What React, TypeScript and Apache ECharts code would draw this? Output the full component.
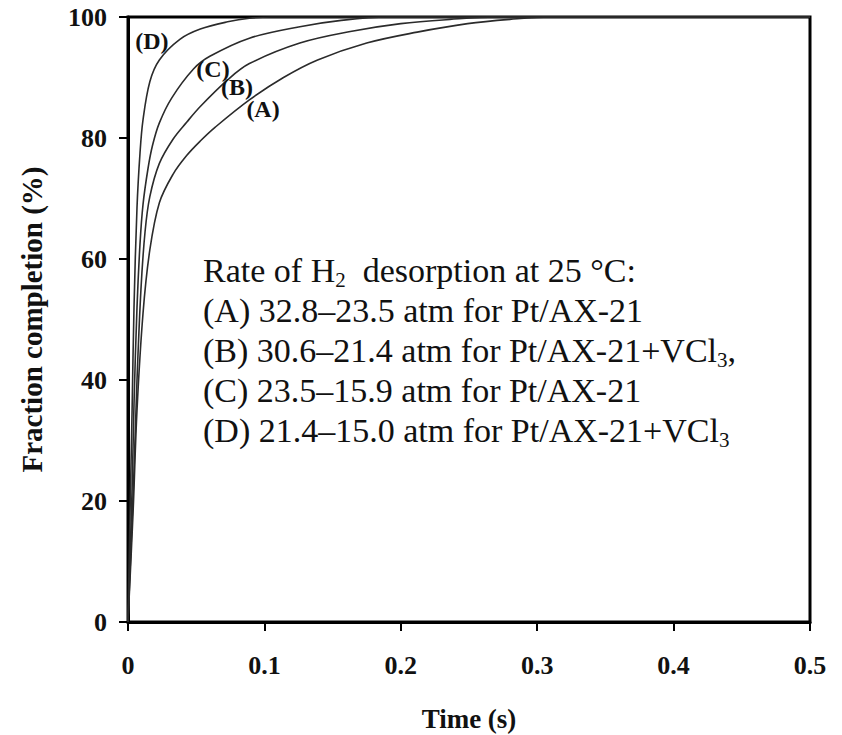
import React, { useEffect, useRef } from "react";
import * as echarts from "echarts";

const xTicks = [0, 0.1, 0.2, 0.3, 0.4, 0.5];
const yTicks = [0, 20, 40, 60, 80, 100];

const timeA = [0, 0.0037, 0.0066, 0.011, 0.016, 0.023, 0.033, 0.043, 0.053, 0.064, 0.089, 0.114, 0.139, 0.175, 0.212, 0.249, 0.28, 0.31, 0.5];
const fracA = [0, 18, 35, 51, 61.5, 69.3, 74, 77.1, 79.5, 81.8, 86.3, 90, 92.9, 95.7, 97.5, 98.9, 99.6, 100, 100];

const timeB = [0, 0.0044, 0.0066, 0.0095, 0.0125, 0.016, 0.023, 0.033, 0.043, 0.053, 0.073, 0.089, 0.126, 0.163, 0.2, 0.236, 0.27, 0.5];
const fracB = [0, 25, 40, 55, 64.5, 70.3, 75.8, 79.8, 82.6, 85.2, 89.6, 92.3, 95.7, 97.6, 98.9, 99.6, 100, 100];

const timeC = [0, 0.003, 0.0044, 0.0066, 0.0088, 0.011, 0.0147, 0.018, 0.023, 0.032, 0.048, 0.06, 0.089, 0.126, 0.155, 0.19, 0.5];
const fracC = [0, 22, 36, 52, 62.5, 69, 75, 78.8, 82.5, 86.6, 91.4, 93.5, 96.5, 98.4, 99.4, 100, 100];

const timeD = [0, 0.0015, 0.003, 0.0044, 0.0066, 0.0088, 0.011, 0.016, 0.023, 0.038, 0.053, 0.073, 0.089, 0.105, 0.5];
const fracD = [0, 18, 35, 52, 68.5, 77.5, 83, 89.3, 92.9, 96.3, 98, 99.2, 99.8, 100, 100];

const seriesNames = ["(A)", "(B)", "(C)", "(D)"];
const labelPos = [
  [0.099, 84.8],
  [0.08, 88.4],
  [0.0623, 91.4],
  [0.0175, 96.0],
];

const annotationLines = [
  "Rate of H{sub|2}  desorption at 25 °C:",
  "(A) 32.8–23.5 atm for Pt/AX-21",
  "(B) 30.6–21.4 atm for Pt/AX-21+VCl{sub|3},",
  "(C) 23.5–15.9 atm for Pt/AX-21",
  "(D) 21.4–15.0 atm for Pt/AX-21+VCl{sub|3}",
];

const SERIF = "'Liberation Serif', 'Times New Roman', serif";

export default function App() {
  const ref = useRef<HTMLDivElement>(null);
  useEffect(() => {
    if (!ref.current) return;
    const chart = echarts.init(ref.current, undefined, { renderer: "svg" });
    const times = [timeA, timeB, timeC, timeD];
    const fracs = [fracA, fracB, fracC, fracD];
    const series = times.map((t, i) => ({
      type: "line",
      name: seriesNames[i],
      data: t.map((x, j) => [x, fracs[i][j]]),
      showSymbol: false,
      smooth: 0.35,
      lineStyle: { color: "#2b2b2b", width: 1.6 },
      markPoint: {
        symbol: "circle",
        symbolSize: 1,
        itemStyle: { color: "rgba(0,0,0,0)" },
        label: {
          show: true,
          position: "inside",
          formatter: seriesNames[i],
          fontFamily: SERIF,
          fontWeight: "bold",
          fontSize: 24,
          color: "#111",
        },
        data: [{ coord: labelPos[i] }],
      },
    }));
    chart.setOption({
      animation: false,
      backgroundColor: "#fff",
      grid: {
        left: 128,
        top: 17,
        right: 32,
        bottom: 113,
        outerBoundsMode: "none",
        containLabel: false,
        show: true,
        borderColor: "#000",
        borderWidth: 3,
      },
      xAxis: {
        type: "value",
        min: xTicks[0],
        max: xTicks[xTicks.length - 1],
        interval: 0.1,
        name: "Time (s)",
        nameLocation: "middle",
        nameGap: 84,
        nameTextStyle: { fontFamily: SERIF, fontWeight: "bold", fontSize: 27, lineHeight: 26, color: "#111" },
        axisLine: { show: true, lineStyle: { color: "#000", width: 3 } },
        axisTick: { show: true, inside: false, length: 9, lineStyle: { color: "#000", width: 2 } },
        axisLabel: {
          margin: 30,
          fontFamily: SERIF,
          fontWeight: "bold",
          fontSize: 26,
          color: "#111",
          formatter: (v: number) => String(Math.round(v * 10) / 10),
        },
        splitLine: { show: false },
      },
      yAxis: {
        type: "value",
        min: yTicks[0],
        max: yTicks[yTicks.length - 1],
        interval: 20,
        name: "Fraction completion (%)",
        nameLocation: "middle",
        nameGap: 82,
        nameTextStyle: { fontFamily: SERIF, fontWeight: "bold", fontSize: 29, color: "#111" },
        axisLine: { show: true, lineStyle: { color: "#000", width: 3 } },
        axisTick: { show: true, inside: false, length: 9, lineStyle: { color: "#000", width: 2 } },
        axisLabel: {
          margin: 21,
          fontFamily: SERIF,
          fontWeight: "bold",
          fontSize: 26,
          color: "#111",
        },
        splitLine: { show: false },
      },
      series,
      graphic: [
        {
          type: "text",
          left: 203,
          top: 250,
          style: {
            text: annotationLines.join("\n"),
            fontFamily: SERIF,
            fontSize: 34,
            lineHeight: 40,
            fill: "#111",
            rich: {
              sub: {
                fontFamily: SERIF,
                fontSize: 21,
                lineHeight: 20,
                verticalAlign: "bottom",
                fill: "#111",
                color: "#111",
              },
            },
          },
        },
      ],
    });
    return () => chart.dispose();
  }, []);
  return (
    <div
      ref={ref}
      style={{ position: "fixed", left: 0, top: 0, width: 842, height: 735, background: "#fff" }}
    />
  );
}
